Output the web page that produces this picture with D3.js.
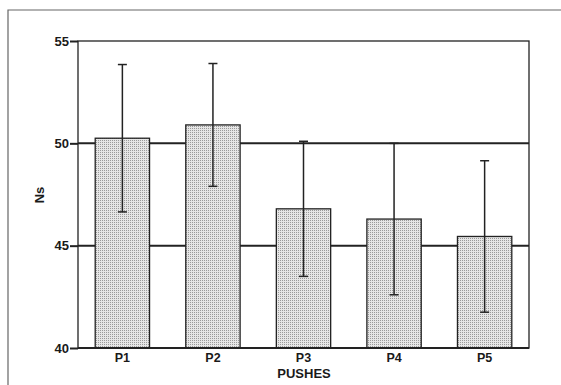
<!DOCTYPE html>
<html lang="en">
<head>
    <meta charset="UTF-8">
    <title>Pushes</title>
    <script src="https://cdn.jsdelivr.net/npm/d3@7/dist/d3.min.js"></script>
    <style>
        body { margin: 0; background: #fff; }
        svg { display: block; }
        text { font-family: "Liberation Sans", Arial, sans-serif; fill: #1a1a1a; }
        .tick text { font-size: 13px; font-weight: bold; }
        .lbl { font-size: 13px; font-weight: bold; }
    </style>
</head>
<body>
<svg id="chart" width="561" height="385"></svg>
<script>
    // values
    var pushes = ["P1", "P2", "P3", "P4", "P5"];
    var means = [50.25, 50.9, 46.8, 46.3, 45.45];
    var sds = [3.6, 3.0, 3.3, 3.7, 3.7];
    var yTicks = [40, 45, 50, 55];

    var svg = d3.select("#chart");

    // note: "top" is taken by window.top, so plot edges get a prefix
    var plotL = 78, plotR = 529, plotT = 41, plotB = 348;

    // outer frame (scan: top and left edges only)
    svg.append("path")
        .attr("d", "M8,385V10H561")
        .attr("fill", "none")
        .attr("stroke", "#666")
        .attr("stroke-width", 1.2);

    var defs = svg.append("defs");
    var pat = defs.append("pattern")
        .attr("id", "dots")
        .attr("width", 2)
        .attr("height", 2)
        .attr("patternUnits", "userSpaceOnUse");
    pat.append("rect").attr("width", 2).attr("height", 2).attr("fill", "#e6e6e6");
    pat.append("rect").attr("width", 1).attr("height", 1).attr("fill", "#9a9a9a");

    var x = d3.scaleBand()
        .domain(pushes)
        .range([plotL, plotR])
        .paddingInner(0.4)
        .paddingOuter(0.19);

    var y = d3.scaleLinear()
        .domain([40, 55])
        .range([plotB, plotT]);

    // grid lines at 45 and 50
    svg.append("g")
        .selectAll("line")
        .data(yTicks.slice(1, 3))
        .enter()
        .append("line")
        .attr("x1", plotL)
        .attr("x2", plotR)
        .attr("y1", function (d) { return y(d); })
        .attr("y2", function (d) { return y(d); })
        .attr("stroke", "#222")
        .attr("stroke-width", 2);

    // bars
    svg.append("g")
        .selectAll("rect")
        .data(pushes)
        .enter()
        .append("rect")
        .attr("x", function (d) { return x(d); })
        .attr("width", x.bandwidth())
        .attr("y", function (d, i) { return y(means[i]); })
        .attr("height", function (d, i) { return y(40) - y(means[i]); })
        .attr("fill", "url(#dots)")
        .attr("stroke", "#222")
        .attr("stroke-width", 1.3);

    // error bars
    var err = svg.append("g")
        .attr("stroke", "#222")
        .attr("stroke-width", 1.5);
    pushes.forEach(function (p, i) {
        var cx = x(p) + x.bandwidth() / 2,
            hi = y(means[i] + sds[i]),
            lo = y(means[i] - sds[i]);
        err.append("line").attr("x1", cx).attr("x2", cx).attr("y1", hi).attr("y2", lo);
        err.append("line").attr("x1", cx - 4.5).attr("x2", cx + 4.5).attr("y1", hi).attr("y2", hi);
        err.append("line").attr("x1", cx - 4.5).attr("x2", cx + 4.5).attr("y1", lo).attr("y2", lo);
    });

    // plot frame
    svg.append("rect")
        .attr("x", plotL)
        .attr("y", plotT)
        .attr("width", plotR - plotL)
        .attr("height", plotB - plotT)
        .attr("fill", "none")
        .attr("stroke", "#222")
        .attr("stroke-width", 1.3);
    svg.append("line")
        .attr("x1", plotL).attr("x2", plotR)
        .attr("y1", plotB).attr("y2", plotB)
        .attr("stroke", "#222").attr("stroke-width", 2.2);

    // y axis
    var yAxis = svg.append("g")
        .attr("transform", "translate(" + plotL + ",0)")
        .call(d3.axisLeft(y).tickValues(yTicks).tickSize(8).tickPadding(1));
    yAxis.select(".domain").remove();
    yAxis.selectAll(".tick line").attr("stroke", "#222").attr("stroke-width", 2);

    // x axis
    var xAxis = svg.append("g")
        .attr("transform", "translate(0," + plotB + ")")
        .call(d3.axisBottom(x).tickSize(0).tickPadding(5));
    xAxis.select(".domain").remove();
    xAxis.selectAll(".tick text").style("font-size", "12.5px");

    svg.append("text")
        .attr("class", "lbl")
        .attr("x", 304)
        .attr("y", 378)
        .attr("text-anchor", "middle")
        .text("PUSHES");

    svg.append("text")
        .attr("class", "lbl")
        .attr("transform", "translate(44,195) rotate(-90)")
        .attr("text-anchor", "middle")
        .text("Ns");
</script>
</body>
</html>
